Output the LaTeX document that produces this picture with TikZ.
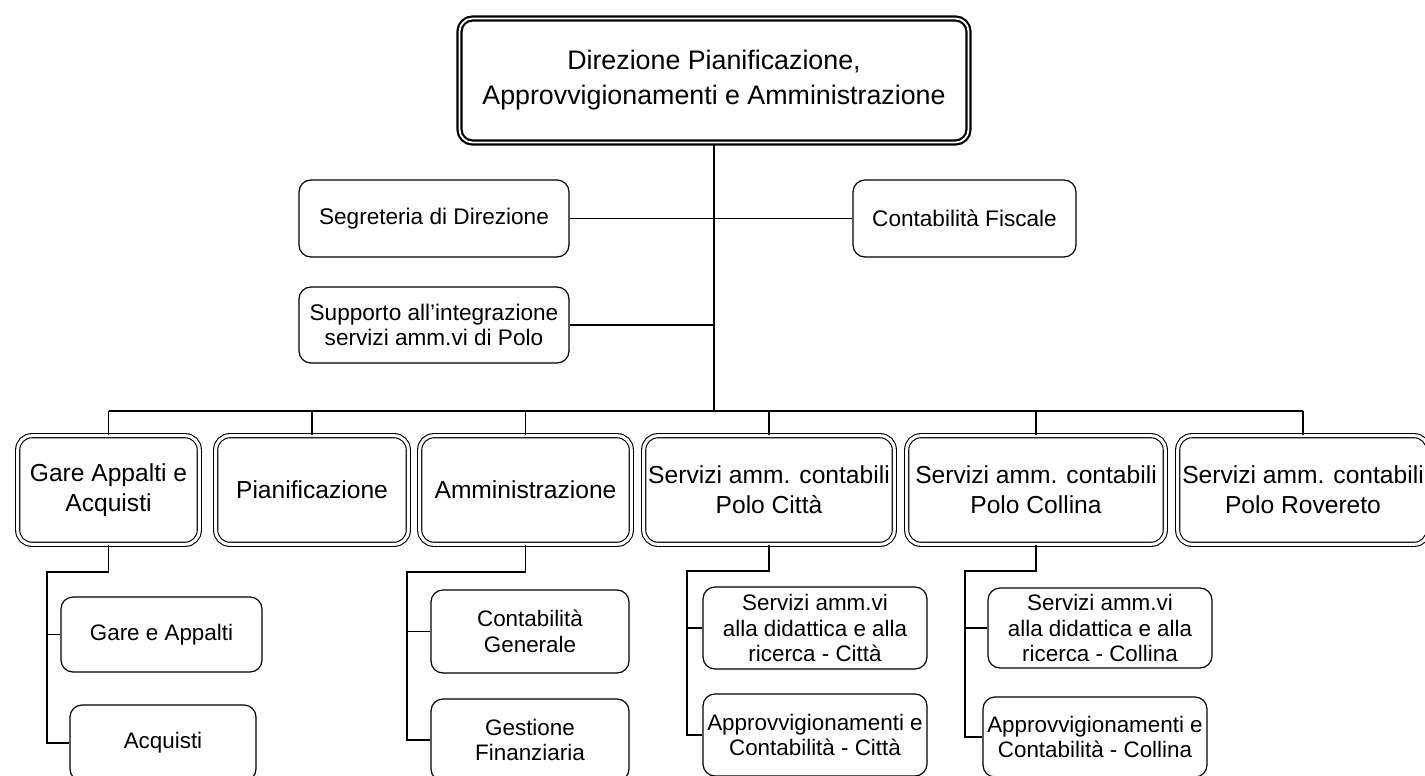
\documentclass[tikz,border=0pt]{standalone}
\usepackage{fontspec}
\setmainfont{Liberation Sans}
\begin{document}
\begin{tikzpicture}[x=1pt,y=-1pt,
  topbox/.style={draw, double, double distance=1.8pt, line width=2.2pt, rounded corners=13pt,
    align=center, inner sep=0pt, font=\fontsize{26.8}{35}\selectfont},
  unitbox/.style={draw, double, double distance=3pt, line width=1.1pt, rounded corners=14pt,
    align=center, inner sep=0pt, font=\fontsize{24.6}{30}\selectfont},
  staffbox/.style={draw, line width=1.2pt, rounded corners=12pt,
    align=center, inner sep=0pt, font=\fontsize{22.6}{25.5}\selectfont},
  subbox/.style={draw, line width=1.2pt, rounded corners=12pt,
    align=center, inner sep=0pt, font=\fontsize{22.4}{25.5}\selectfont},
  conn/.style={line width=1.3pt}
]
\useasboundingbox (0,0) rectangle (1425,776);

% top
\node[topbox, minimum width=509pt, minimum height=124pt] (top) at (714,80.5)
  {Direzione Pianificazione,\\Approvvigionamenti e Amministrazione};

% staff
\node[staffbox, minimum width=270pt, minimum height=77pt] (segr) at (434,218.5) {Segreteria di Direzione};
\node[staffbox, minimum width=223pt, minimum height=77pt] (fisc) at (964.5,218.5) {Contabilità Fiscale};
\node[staffbox, minimum width=270pt, minimum height=76pt] (supp) at (434,325) {Supporto all’integrazione\\servizi amm.vi di Polo};

% units
\node[unitbox, minimum width=181.6pt, minimum height=108.6pt] (gare) at (108.5,490) {Gare Appalti e\\Acquisti};
\node[unitbox, minimum width=192.6pt, minimum height=108.6pt] (pian) at (312,490) {Pianificazione};
\node[unitbox, minimum width=211.6pt, minimum height=108.6pt] (amm) at (525.5,490) {Amministrazione};
\node[unitbox, minimum width=250.6pt, minimum height=108.6pt] (citta) at (769,490) {Servizi amm. contabili\\Polo Città};
\node[unitbox, minimum width=258.6pt, minimum height=108.6pt] (coll) at (1036,490) {Servizi amm. contabili\\Polo Collina};
\node[unitbox, minimum width=250.6pt, minimum height=108.6pt] (rov) at (1303,490) {Servizi amm. contabili\\Polo Rovereto};

% sub units
\node[subbox, minimum width=201pt, minimum height=75pt] (gap) at (161.5,634.5) {Gare e Appalti};
\node[subbox, minimum width=186pt, minimum height=76pt] (acq) at (163,743) {Acquisti};
\node[subbox, minimum width=198pt, minimum height=83pt] (cgen) at (530,631.5) {Contabilità\\Generale};
\node[subbox, minimum width=198pt, minimum height=82pt] (gfin) at (530,740) {Gestione\\Finanziaria};
\node[subbox, minimum width=224pt, minimum height=82pt] (cdid) at (815,628) {Servizi amm.vi\\alla didattica e alla\\ricerca - Città};
\node[subbox, minimum width=224pt, minimum height=82pt] (capp) at (815,735) {Approvvigionamenti e\\Contabilità - Città};
\node[subbox, minimum width=224pt, minimum height=80pt] (ldid) at (1100,628) {Servizi amm.vi\\alla didattica e alla\\ricerca - Collina};
\node[subbox, minimum width=224pt, minimum height=80pt] (lapp) at (1095,737) {Approvvigionamenti e\\Contabilità - Collina};

% helper coordinates
\coordinate (busy) at (0,411);
\coordinate (gspine) at (47,572);
\coordinate (aspine) at (407,572);
\coordinate (cspine) at (687,571);
\coordinate (lspine) at (965,571);

% main trunk
\draw[conn] (top.south) -- (top.south |- busy);
\draw[conn] (segr.east) -- (fisc.west);
\draw[conn] (supp.east) -- (supp.east -| top.south);
% bus
\draw[conn] (gare.north |- busy) -- (rov.north |- busy);
\foreach \n in {gare,pian,amm,citta,coll,rov}
  \draw[conn] (\n.north |- busy) -- (\n.north);

% sub trees
\draw[conn] (gare.south) |- (gspine) -- (gspine |- acq.west) -- (acq.west);
\draw[conn] (gspine |- gap.west) -- (gap.west);
\draw[conn] (amm.south) |- (aspine) -- (aspine |- gfin.west) -- (gfin.west);
\draw[conn] (aspine |- cgen.west) -- (cgen.west);
\draw[conn] (citta.south) |- (cspine) -- (cspine |- capp.west) -- (capp.west);
\draw[conn] (cspine |- cdid.west) -- (cdid.west);
\draw[conn] (coll.south) |- (lspine) -- (lspine |- lapp.west) -- (lapp.west);
\draw[conn] (lspine |- ldid.west) -- (ldid.west);
\end{tikzpicture}
\end{document}
